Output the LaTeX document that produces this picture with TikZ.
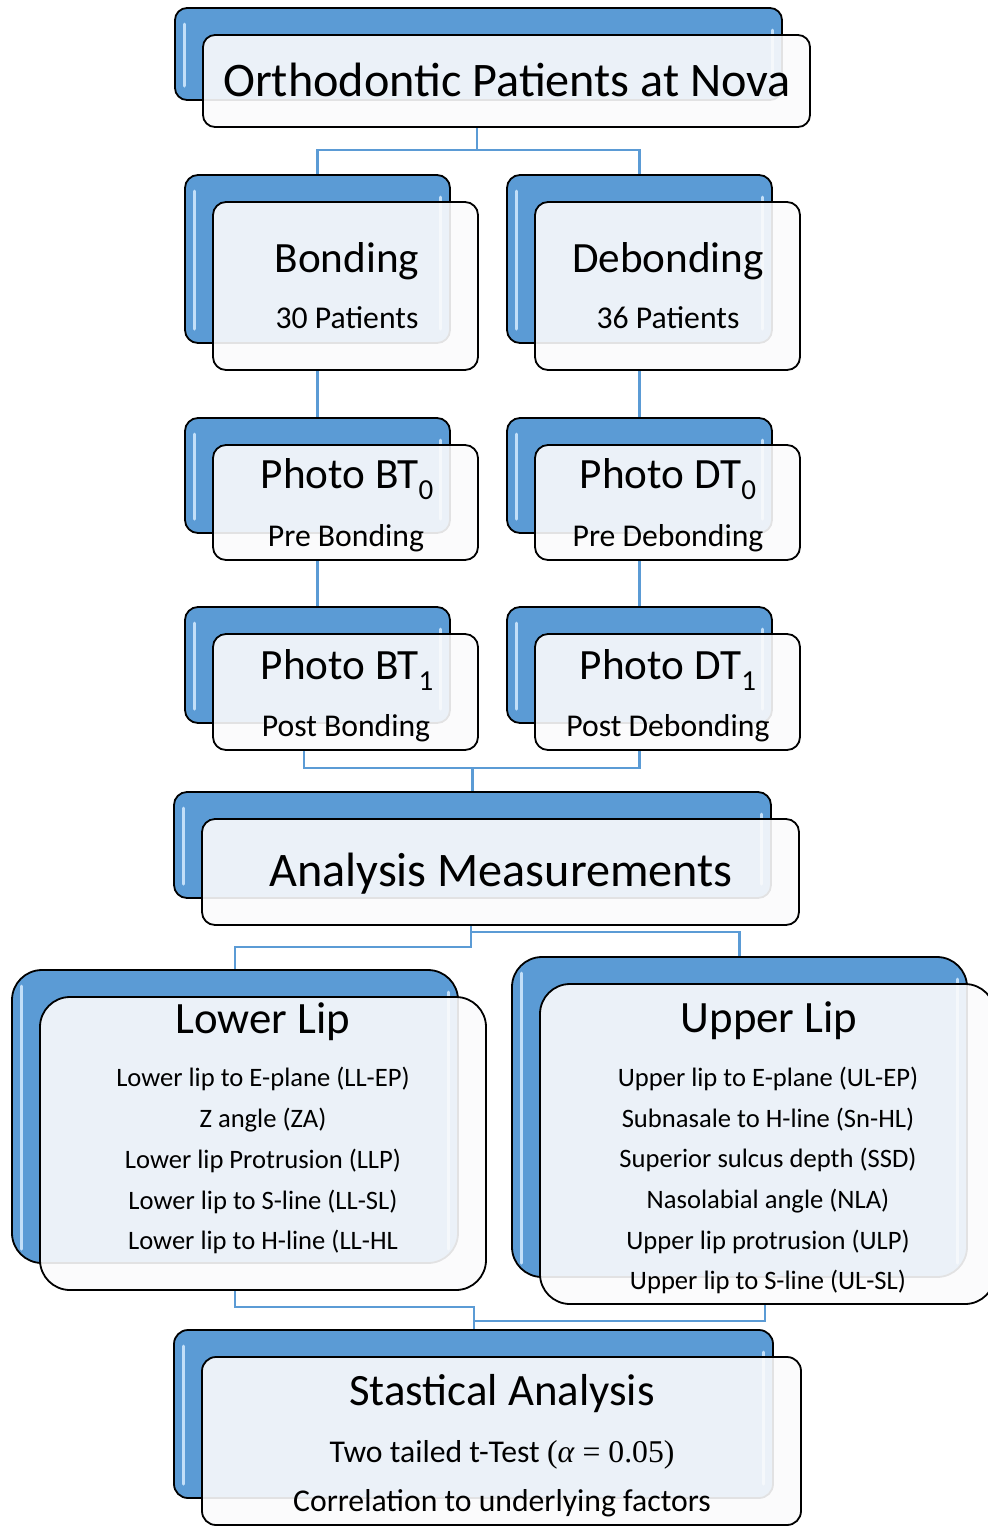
\documentclass[tikz,border=0pt]{standalone}
\usepackage{fontspec}
\setmainfont{Carlito}
\newfontfamily\tms{Liberation Serif}
\usetikzlibrary{backgrounds}

\definecolor{boxblue}{HTML}{5B9BD5}
\definecolor{paper}{HTML}{FBFBFC}
\definecolor{glint}{HTML}{D6ECFF}

% a blue back card with a translucent white card laid over it
\newcommand\twobox[6]{%
  \node[backbox, rounded corners=#6, minimum width=#4pt, minimum height=#5pt] (#1-b) at (#2,#3) {};
  \draw[gloss] ([shift={(9,16)}]#1-b.north west) -- ([shift={(9,-14)}]#1-b.south west);
  \draw[gloss] ([shift={(-10,22)}]#1-b.north east) -- ([shift={(-10,-14)}]#1-b.south east);
  \node[frontbox, rounded corners=#6, minimum width=#4pt, minimum height=#5pt] (#1) at ([shift={(28,27)}]#1-b.north west) {};
}
\newcommand\sub[1]{\raisebox{-11pt}{\fontsize{29}{29}\selectfont #1}}

\begin{document}
\begin{tikzpicture}[x=1pt, y=-1pt,
  backbox/.style={draw=black, line width=1.8pt, fill=boxblue, anchor=north west, inner sep=0pt, outer sep=0pt},
  frontbox/.style={draw=black, line width=1.8pt, fill=paper, fill opacity=0.9, anchor=north west, inner sep=0pt, outer sep=0pt},
  gloss/.style={draw=glint, line width=3pt, line cap=round, opacity=0.85},
  conn/.style={draw=boxblue, line width=2.6pt},
  big/.style={font=\fontsize{48.2}{52}\selectfont, anchor=base, inner sep=0pt},
  head/.style={font=\fontsize{43.2}{46}\selectfont, anchor=base, inner sep=0pt},
  lip/.style={font=\fontsize{44.8}{48}\selectfont, anchor=base, inner sep=0pt},
  subline/.style={font=\fontsize{31.7}{34}\selectfont, anchor=base, inner sep=0pt},
  item/.style={font=\fontsize{26.6}{29}\selectfont, anchor=base, inner sep=0pt}]
\useasboundingbox (0,0) rectangle (988,1527);

% cards
\twobox{top}{175}{8}{607}{92}{12}
\twobox{bond}{185}{175}{265}{168}{13}
\twobox{debond}{507}{175}{265}{168}{13}
\twobox{bt0}{185}{418}{265}{115}{13}
\twobox{dt0}{507}{418}{265}{115}{13}
\twobox{bt1}{185}{607}{265}{116}{13}
\twobox{dt1}{507}{607}{265}{116}{13}
\twobox{an}{174}{792}{597}{106}{13}
\twobox{lower}{12}{970}{446}{293}{30}
\twobox{upper}{512}{957}{455}{320}{30}
\twobox{stat}{174}{1330}{599}{168}{14}

% labels
\node[big] (t-top) at (507,96) {Orthodontic Patients at Nova};

\node[head] (t-bond) at (347,272) {Bonding};
\node[subline] (s-bond) at (347,328) {30 Patients};
\node[head] (t-debond) at (668,272) {Debonding};
\node[subline] (s-debond) at (668,328) {36 Patients};

\node[head] (t-bt0) at (347,488) {Photo BT\sub{0}};
\node[subline] (s-bt0) at (346,546) {Pre Bonding};
\node[head] (t-dt0) at (668,488) {Photo DT\sub{0}};
\node[subline] (s-dt0) at (668,546) {Pre Debonding};

\node[head] (t-bt1) at (347,679) {Photo BT\sub{1}};
\node[subline] (s-bt1) at (346,736) {Post Bonding};
\node[head] (t-dt1) at (668,679) {Photo DT\sub{1}};
\node[subline] (s-dt1) at (668,736) {Post Debonding};

\node[big] (t-an) at (501,886) {Analysis Measurements};

\node[lip] (t-lower) at (263,1033) {Lower Lip};
\node[item] (l1) at (263,1086) {Lower lip to E-plane (LL-EP)};
\node[item] (l2) at (263,1127) {Z angle (ZA)};
\node[item] (l3) at (263,1168) {Lower lip Protrusion (LLP)};
\node[item] (l4) at (263,1209) {Lower lip to S-line (LL-SL)};
\node[item] (l5) at (263,1249) {Lower lip to H-line (LL-HL};

\node[lip] (t-upper) at (769,1032) {Upper Lip};
\node[item] (u1) at (768,1086) {Upper lip to E-plane (UL-EP)};
\node[item] (u2) at (768,1127) {Subnasale to H-line (Sn-HL)};
\node[item] (u3) at (768,1167) {Superior sulcus depth (SSD)};
\node[item] (u4) at (768,1208) {Nasolabial angle (NLA)};
\node[item] (u5) at (768,1249) {Upper lip protrusion (ULP)};
\node[item] (u6) at (768,1289) {Upper lip to S-line (UL-SL)};

\node[lip] (t-stat) at (502,1405) {Stastical Analysis};
\node[subline] (s-stat1) at (502,1462) {Two tailed t-Test {\tms(\textit{α} = 0.05)}};
\node[subline] (s-stat2) at (502,1511) {Correlation to underlying factors};

% connectors run underneath the cards
\begin{pgfonlayer}{background}
  \coordinate (j1) at (477,150);
  \draw[conn] (top.south -| j1) -- (j1);
  \draw[conn] (bond-b.north) |- (j1) -| (debond-b.north);

  \draw[conn] (bond.south -| bt0-b.north) -- (bt0-b.north);
  \draw[conn] (debond.south -| dt0-b.north) -- (dt0-b.north);
  \draw[conn] (bt0.south -| bt1-b.north) -- (bt1-b.north);
  \draw[conn] (dt0.south -| dt1-b.north) -- (dt1-b.north);

  \coordinate (j2) at (304,768);
  \draw[conn] (bt1.south -| j2) -- (j2) -| (dt1.south -| dt1-b.north);
  \draw[conn] (an-b.north |- j2) -- (an-b.north);

  \coordinate (j3) at (471,947);
  \coordinate (j3r) at (471,932);
  \draw[conn] (an.south -| j3) -- (j3) -| (lower-b.north);
  \draw[conn] (j3r) -| (upper-b.north);

  \coordinate (j4) at (474,1307);
  \coordinate (j5) at (765,1321);
  \draw[conn] (lower.south -| lower-b.north) |- (j4) -- (j4 |- stat-b.north);
  \draw[conn] (upper.south -| j5) -- (j5) -- (j5 -| j4);
\end{pgfonlayer}
\end{tikzpicture}
\end{document}
